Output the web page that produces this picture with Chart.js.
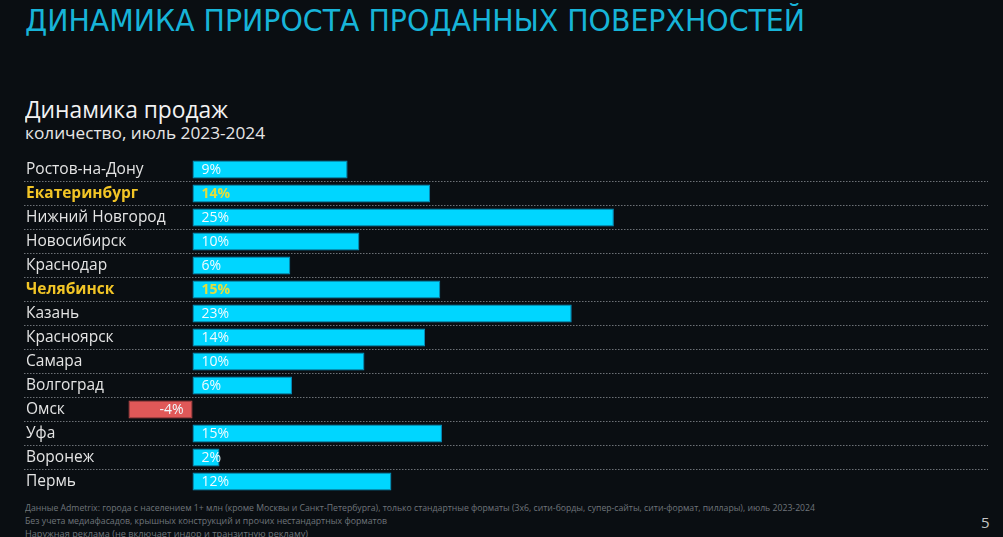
<!DOCTYPE html>
<html lang="ru">
<head>
<meta charset="utf-8">
<script src="https://cdn.jsdelivr.net/npm/chart.js@4/dist/chart.umd.min.js"></script>
<style>
  html, body { margin: 0; padding: 0; }
  body {
    width: 1003px; height: 537px; overflow: hidden; position: relative;
    background: #0a0e12; font-family: "Open Sans", "Noto Sans", sans-serif;
  }
  .txt { position: absolute; white-space: nowrap; line-height: 1; transform-origin: 0 50%; }
  #title { left: 25px; top: 5px; font-size: 31px; color: #17b4d8; font-family: "Liberation Sans Narrow", "DejaVu Sans Condensed", sans-serif; }
  #sub1 { left: 25px; top: 98px; font-size: 23px; color: #f2f2f2; }
  #sub2 { left: 25px; top: 124px; font-size: 17px; color: #e6e6e6; }
  .note { left: 25px; font-size: 9px; color: #6f757b; }
  #page { left: 981px; top: 515px; font-size: 15px; color: #c4c4c4; }
  #wrap { position: absolute; left: 0; top: 0; width: 1003px; height: 537px; }
</style>
</head>
<body>
<div id="title" class="txt" data-w="780">ДИНАМИКА ПРИРОСТА ПРОДАННЫХ ПОВЕРХНОСТЕЙ</div>
<div id="sub1" class="txt" data-w="203">Динамика продаж</div>
<div id="sub2" class="txt" data-w="240">количество, июль 2023-2024</div>
<div class="txt note" style="top:503px" data-w="790">Данные Admetrix: города с населением 1+ млн (кроме Москвы и Санкт-Петербурга), только стандартные форматы (3х6, сити-борды, супер-сайты, сити-формат, пиллары), июль 2023-2024</div>
<div class="txt note" style="top:516px" data-w="362">Без учета медиафасадов, крышных конструкций и прочих нестандартных форматов</div>
<div class="txt note" style="top:529px" data-w="283">Наружная реклама (не включает индор и транзитную рекламу)</div>
<div id="page" class="txt">5</div>
<div id="wrap"><canvas id="chart" width="1003" height="537"></canvas></div>
<script>
  // Data
  const cities = [
    "Ростов-на-Дону", "Екатеринбург", "Нижний Новгород", "Новосибирск", "Краснодар",
    "Челябинск", "Казань", "Красноярск", "Самара", "Волгоград",
    "Омск", "Уфа", "Воронеж", "Пермь",
  ]
  const growth = [9.2, 14.1, 25, 9.9, 5.8, 14.7, 22.5, 13.8, 10.2, 5.9, -3.8, 14.8, 1.6, 11.8]
  const highlighted = ["Екатеринбург", "Челябинск"]

  // Squeeze texts to the widths seen on the slide
  document.querySelectorAll("[data-w]").forEach((el) => {
    const w = el.getBoundingClientRect().width
    el.style.transform = "scaleX(" + (+el.dataset.w / w) + ")"
  })

  const isHi = (i) => highlighted.includes(cities[i])

  // Value labels inside the bars
  const valueLabels = {
    id: "valueLabels",
    afterDatasetsDraw(chart) {
      const c = chart.ctx
      const meta = chart.getDatasetMeta(0)
      c.save()
      c.textBaseline = "middle"
      meta.data.forEach((bar, i) => {
        const v = growth[i]
        c.font = (isHi(i) ? "bold " : "") + "14px 'Open Sans', sans-serif"
        c.fillStyle = isHi(i) ? "#e4de3c" : "#f0fbff"
        const txt = Math.round(v) + "%"
        if (v >= 0) {
          c.textAlign = "left"
          c.fillText(txt, bar.base + 9, bar.y + 1)
        } else {
          c.textAlign = "right"
          c.fillText(txt, bar.base - 9, bar.y + 1)
        }
      })
      c.restore()
    },
  }

  new Chart(document.getElementById("chart"), {
    type: "bar",
    data: {
      labels: cities,
      datasets: [
        {
          data: growth,
          backgroundColor: growth.map((v) => (v < 0 ? "#e05858" : "#00d6ff")),
          borderColor: growth.map((v) => (v < 0 ? "#c84a4a" : "#0890c0")),
          borderWidth: 1,
          borderSkipped: false,
          barPercentage: 0.74,
          categoryPercentage: 1,
        },
      ],
    },
    options: {
      indexAxis: "y",
      responsive: false,
      animation: false,
      events: [],
      layout: { padding: { top: 157.5, bottom: 43.5, left: 20, right: 15 } },
      scales: {
        x: { display: false, min: -10, max: 47.2 },
        y: {
          border: { display: false, dash: [1.5, 1.5] },
          grid: {
            drawTicks: false,
            lineWidth: 1,
            color: (ctx) => (ctx.index > 0 && ctx.index < cities.length ? "#6c7176" : "transparent"),
          },
          ticks: {
            mirror: true,
            padding: 2,
            color: (ctx) => (isHi(ctx.index) ? "#f2c526" : "#e4e4e4"),
            font: (ctx) => ({
              family: "'Open Sans', sans-serif",
              size: 15.5,
              weight: isHi(ctx.index) ? "bold" : "normal",
            }),
          },
        },
      },
      plugins: { legend: { display: false }, tooltip: { enabled: false } },
    },
    plugins: [valueLabels],
  })
</script>
</body>
</html>
